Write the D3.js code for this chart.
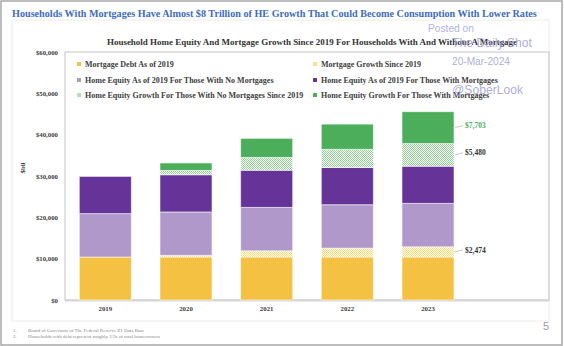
<!DOCTYPE html>
<html>
<head>
<meta charset="utf-8">
<script src="https://cdn.jsdelivr.net/npm/d3@7"></script>
<style>
  html, body { margin: 0; padding: 0; background: #fff; }
  svg { display: block; }
</style>
</head>
<body>
<svg id="chart" width="564" height="346"></svg>
<script>
// Household home equity and mortgage values, $ billions
const years = ["2019", "2020", "2021", "2022", "2023"];
const mortgageDebt2019 = [10400, 10400, 10400, 10400, 10400];
const mortgageGrowth = [0, 400, 1500, 2150, 2474];
const heNoMortgage2019 = [10500, 10500, 10500, 10500, 10500];
const heWithMortgage2019 = [9000, 9000, 9000, 9000, 9000];
const heGrowthNoMortgage = [0, 1050, 3100, 4400, 5480];
const heGrowthWithMortgage = [0, 1800, 4600, 6100, 7703];
const yTicks = [0, 10000, 20000, 30000, 40000, 50000, 60000];

const seriesNames = [
  "Mortgage Debt As of 2019",
  "Mortgage Growth Since 2019",
  "Home Equity As of 2019 For Those With No Mortgages",
  "Home Equity As of 2019 For Those With Mortgages",
  "Home Equity Growth For Those With No Mortgages Since 2019",
  "Home Equity Growth For Those With Mortgages"
];
const seriesValues = [mortgageDebt2019, mortgageGrowth, heNoMortgage2019,
  heWithMortgage2019, heGrowthNoMortgage, heGrowthWithMortgage];

const svg = d3.select("#chart");
const serif = "'Liberation Serif', 'Times New Roman', serif";
const sans = "'Liberation Sans', Arial, sans-serif";

// shrink or grow a text's font so it spans a given width
function fitText(sel, width) {
  const w = sel.node().getComputedTextLength();
  const fs = parseFloat(sel.attr("font-size"));
  sel.attr("font-size", (fs * width / w).toFixed(2));
  return sel;
}

// checkered fills for the "growth" segments
const defs = svg.append("defs");
function checker(id, color) {
  const p = defs.append("pattern").attr("id", id)
    .attr("width", 2).attr("height", 2).attr("patternUnits", "userSpaceOnUse");
  p.append("rect").attr("width", 2).attr("height", 2).attr("fill", "#fff");
  p.append("rect").attr("width", 1).attr("height", 1).attr("fill", color);
  p.append("rect").attr("x", 1).attr("y", 1).attr("width", 1).attr("height", 1).attr("fill", color);
}
checker("hatchYellow", "#fbd96f");
checker("hatchGreen", "#8fcf92");

const fills = ["#f4c142", "url(#hatchYellow)", "#b198cb", "#663399", "url(#hatchGreen)", "#4cad5b"];
const legendFills = ["#f4c142", "#fbe08a", "#b198cb", "#663399", "#b5e0b5", "#4cad5b"];

// page frame
svg.append("rect").attr("x", 1).attr("y", 1).attr("width", 561).attr("height", 344)
  .attr("fill", "#fff").attr("stroke", "#a8a8a8").attr("stroke-width", 1.5);
svg.append("rect").attr("x", 12).attr("y", 20).attr("width", 537).attr("height", 301)
  .attr("fill", "none").attr("stroke", "#ececec").attr("stroke-width", 1);

// headline
fitText(svg.append("text").attr("x", 12).attr("y", 17)
  .attr("font-family", serif).attr("font-weight", "bold").attr("font-size", 12)
  .attr("fill", "#3d6cbc")
  .text("Households With Mortgages Have Almost $8 Trillion of HE Growth That Could Become Consumption With Lower Rates"), 525);

// chart subtitle
fitText(svg.append("text").attr("x", 312).attr("y", 45).attr("text-anchor", "middle")
  .attr("font-family", serif).attr("font-weight", "bold").attr("font-size", 9)
  .attr("fill", "#333")
  .text("Household Home Equity And Mortgage Growth Since 2019 For Households With And Without A Mortgage"), 410);

// scales
const plot = { left: 65, right: 549, top: 52, bottom: 300 };
const x = d3.scaleBand().domain(years)
  .range([plot.left, plot.right - (plot.right - plot.left) / 6])
  .paddingInner(0.355).paddingOuter(0.1775);
const y = d3.scaleLinear().domain([0, 60000]).range([plot.bottom, plot.top]);

// plot border
svg.append("rect").attr("x", plot.left).attr("y", plot.top)
  .attr("width", plot.right - plot.left).attr("height", plot.bottom - plot.top)
  .attr("fill", "none").attr("stroke", "#c4c4c4").attr("stroke-width", 1);
svg.append("line").attr("x1", plot.left).attr("x2", plot.right)
  .attr("y1", plot.bottom + 0.5).attr("y2", plot.bottom + 0.5)
  .attr("stroke", "#d4d4d4").attr("stroke-width", 2);

// stacked bars
const rows = years.map((yr, i) => {
  const r = { year: yr };
  seriesNames.forEach((n, k) => { r[n] = seriesValues[k][i]; });
  return r;
});
const stacked = d3.stack().keys(seriesNames)(rows);

svg.append("g").selectAll("g").data(stacked).join("g")
  .attr("fill", (d, k) => fills[k])
  .selectAll("rect").data(d => d.filter(s => s[1] > s[0])).join("rect")
  .attr("x", d => x(d.data.year))
  .attr("width", x.bandwidth())
  .attr("y", d => y(d[1]))
  .attr("height", d => y(d[0]) - y(d[1]))
  .attr("stroke", "#fff").attr("stroke-opacity", 0.55).attr("stroke-width", 1);

// axes
const yAxis = svg.append("g").attr("transform", `translate(${plot.left},0)`)
  .call(d3.axisLeft(y).tickValues(yTicks).tickSize(0).tickPadding(7)
    .tickFormat(d => "$" + d3.format(",")(d)));
const xAxis = svg.append("g").attr("transform", `translate(0,${plot.bottom})`)
  .call(d3.axisBottom(x).tickSize(0).tickPadding(6));
[yAxis, xAxis].forEach(a => {
  a.select(".domain").remove();
  a.selectAll("text").attr("font-family", serif).attr("font-weight", "bold")
    .attr("font-size", 6.8).attr("fill", "#404040");
});

svg.append("text").attr("transform", "translate(25,168) rotate(-90)")
  .attr("text-anchor", "middle").attr("font-family", serif).attr("font-weight", "bold")
  .attr("font-size", 6.8).attr("fill", "#404040").text("$bil");

// value call-outs on the latest bar
const last = years.length - 1;
const callouts = [
  { k: 1, color: "#333" },
  { k: 4, color: "#333" },
  { k: 5, color: "#4cad5b" }
];
const xr = x(years[last]) + x.bandwidth();
callouts.forEach(c => {
  const seg = stacked[c.k][last];
  const my = (y(seg[0]) + y(seg[1])) / 2;
  svg.append("line").attr("x1", xr + 1).attr("y1", my).attr("x2", xr + 9).attr("y2", my - 2)
    .attr("stroke", "#bbb").attr("stroke-width", 0.8);
  svg.append("text").attr("x", xr + 11).attr("y", my - 2).attr("dy", "0.35em")
    .attr("font-family", serif).attr("font-weight", "bold").attr("font-size", 7.5)
    .attr("fill", c.color).text("$" + d3.format(",")(seriesValues[c.k][last]));
});

// legend: two columns, three rows
const legendCols = [77, 313];
const legendRows = [64, 80, 95];
const legend = svg.append("g");
seriesNames.forEach((n, k) => {
  const lx = legendCols[k % 2], ly = legendRows[Math.floor(k / 2)];
  legend.append("rect").attr("x", lx).attr("y", ly - 2).attr("width", 4).attr("height", 4)
    .attr("fill", legendFills[k]);
  legend.append("text").attr("x", lx + 8).attr("y", ly).attr("dy", "0.35em")
    .attr("font-family", serif).attr("font-weight", "bold").attr("font-size", 8)
    .attr("fill", "#404040").text(n);
});

// watermark
const wm = svg.append("g").attr("font-family", sans);
fitText(wm.append("text").attr("x", 428).attr("y", 32).attr("font-size", 11)
  .attr("fill", "#b3b3dc").text("Posted on"), 46);
fitText(wm.append("text").attr("x", 452).attr("y", 47).attr("font-size", 12)
  .attr("fill", "#a3a3d4").attr("fill-opacity", 0.9).text("The Daily Shot"), 80);
fitText(wm.append("text").attr("x", 452).attr("y", 65).attr("font-size", 11)
  .attr("fill", "#a3a3d4").attr("fill-opacity", 0.9).text("20-Mar-2024"), 58);
fitText(wm.append("text").attr("x", 452).attr("y", 94).attr("font-size", 13)
  .attr("fill", "#a3a3d4").attr("fill-opacity", 0.9).text("@SoberLook"), 71);

// footnotes and page number
const notes = [
  "Board of Governors of The Federal Reserve Z1 Data Base",
  "Households with debt represent roughly 2/3s of total homeowners"
];
notes.forEach((t, i) => {
  svg.append("text").attr("x", 13).attr("y", 332 + i * 5.8)
    .attr("font-family", serif).attr("font-size", 5).attr("fill", "#858585").text((i + 1) + ".");
  svg.append("text").attr("x", 28).attr("y", 332 + i * 5.8)
    .attr("font-family", serif).attr("font-size", 5).attr("fill", "#858585").text(t);
});
svg.append("text").attr("x", 546).attr("y", 330).attr("text-anchor", "middle")
  .attr("font-family", sans).attr("font-size", 11).attr("fill", "#9a9a9a").text("5");
</script>
</body>
</html>
